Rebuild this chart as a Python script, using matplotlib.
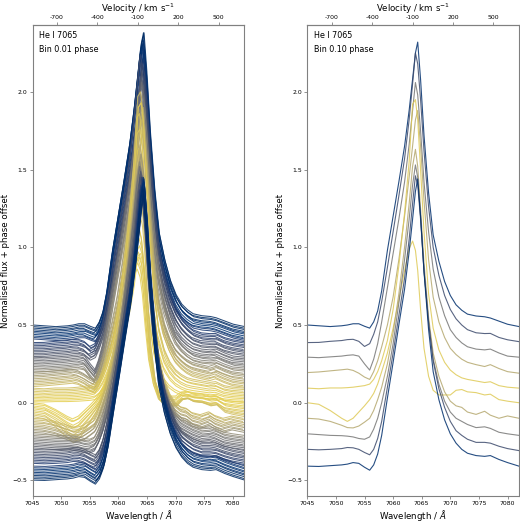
import numpy as np
import matplotlib
matplotlib.use("Agg")
import matplotlib.pyplot as plt

# wavelength grid (A) on which the 10 phase-binned profiles were read
wave = [7045, 7047, 7049, 7051, 7052, 7053, 7054, 7055, 7055.9, 7056.6, 7057.3, 7058,
        7059, 7060, 7061, 7062, 7062.8, 7063.4, 7063.9, 7064.3, 7064.8, 7065.4, 7066.2,
        7067, 7068, 7069, 7070, 7071, 7072, 7073, 7074.5, 7076, 7077, 7078.5, 7080, 7082]

# continuum-subtracted flux of each 0.10 phase bin
bin_flux = [
    [0.0, -0.005, -0.01, -0.005, 0.0, 0.008, 0.008, -0.008, -0.02, 0.02, 0.09, 0.22,
     0.48, 0.70, 0.92, 1.15, 1.38, 1.58, 1.75, 1.82, 1.58, 1.22, 0.85,
     0.58, 0.41, 0.28, 0.19, 0.13, 0.095, 0.07, 0.058, 0.053, 0.045, 0.025, 0.005, -0.01],
    [-0.013, -0.012, -0.005, 0.0, 0.006, 0.008, -0.005, -0.038, -0.02, 0.04, 0.12, 0.25,
     0.47, 0.70, 0.93, 1.17, 1.42, 1.65, 1.85, 1.78, 1.55, 1.22, 0.86,
     0.60, 0.42, 0.29, 0.20, 0.14, 0.10, 0.07, 0.05, 0.045, 0.046, 0.02, 0.005, -0.007],
    [-0.007, -0.01, -0.005, 0.0, 0.005, 0.008, 0.0, -0.05, -0.09, -0.02, 0.08, 0.22,
     0.44, 0.66, 0.88, 1.12, 1.36, 1.58, 1.76, 1.68, 1.45, 1.12, 0.80,
     0.56, 0.38, 0.26, 0.17, 0.12, 0.085, 0.06, 0.045, 0.04, 0.045, 0.02, 0.0, -0.007],
    [-0.006, -0.002, 0.005, 0.012, 0.016, 0.008, -0.01, -0.035, -0.05, 0.0, 0.07, 0.16,
     0.30, 0.48, 0.72, 1.00, 1.25, 1.45, 1.62, 1.68, 1.45, 1.10, 0.72,
     0.48, 0.32, 0.22, 0.15, 0.11, 0.08, 0.06, 0.045, 0.033, 0.045, 0.02, 0.0, -0.01],
    [-0.006, -0.01, -0.005, -0.005, -0.003, 0.0, 0.005, 0.01, 0.02, 0.05, 0.10, 0.17,
     0.30, 0.50, 0.78, 1.12, 1.45, 1.82, 1.85, 1.72, 1.40, 1.00, 0.60,
     0.38, 0.24, 0.16, 0.11, 0.08, 0.06, 0.05, 0.04, 0.03, 0.035, 0.01, 0.0, -0.006],
    [0.0, -0.01, -0.05, -0.10, -0.12, -0.10, -0.06, -0.02, 0.02, 0.06, 0.12, 0.20,
     0.32, 0.48, 0.66, 0.85, 0.99, 1.04, 0.98, 0.85, 0.60, 0.35, 0.17,
     0.08, 0.05, 0.05, 0.05, 0.08, 0.085, 0.07, 0.065, 0.05, 0.055, 0.02, 0.01, 0.0],
    [0.0, -0.005, -0.02, -0.045, -0.06, -0.062, -0.05, -0.025, 0.0, 0.05, 0.12, 0.20,
     0.35, 0.55, 0.80, 1.10, 1.38, 1.62, 1.73, 1.62, 1.35, 1.00, 0.65,
     0.42, 0.27, 0.17, 0.11, 0.08, 0.07, 0.04, 0.025, 0.045, 0.02, 0.0, 0.015, 0.0],
    [0.0, -0.005, -0.01, -0.012, -0.015, -0.02, -0.03, -0.035, -0.02, 0.03, 0.10, 0.20,
     0.37, 0.58, 0.84, 1.12, 1.38, 1.60, 1.73, 1.65, 1.40, 1.05, 0.72,
     0.48, 0.32, 0.21, 0.14, 0.10, 0.08, 0.06, 0.04, 0.045, 0.035, 0.01, 0.0, -0.01],
    [0.0, -0.003, 0.0, 0.005, 0.012, 0.01, 0.0, -0.02, -0.035, 0.0, 0.07, 0.18,
     0.40, 0.62, 0.86, 1.10, 1.35, 1.58, 1.76, 1.70, 1.48, 1.15, 0.82,
     0.57, 0.39, 0.27, 0.18, 0.12, 0.09, 0.065, 0.045, 0.045, 0.04, 0.02, 0.005, -0.008],
    [-0.008, -0.01, -0.005, 0.0, 0.005, 0.015, 0.01, -0.015, -0.034, 0.0, 0.07, 0.19,
     0.43, 0.66, 0.90, 1.13, 1.37, 1.58, 1.76, 1.84, 1.60, 1.24, 0.87,
     0.60, 0.42, 0.29, 0.20, 0.14, 0.10, 0.075, 0.06, 0.055, 0.06, 0.035, 0.015, -0.008],
]
bin_phase = [0.05, 0.15, 0.25, 0.35, 0.45, 0.55, 0.65, 0.75, 0.85, 0.95]
bin_offset = [0.5, 0.4, 0.3, 0.2, 0.1, 0.0, -0.1, -0.2, -0.3, -0.4]

# 0.01 phase bins: peak height above continuum and small peak shift (A)
fine_peak = [1.88, 1.86, 1.90, 1.84, 1.87, 1.82, 1.85, 1.83, 1.86, 1.80,
             1.84, 1.80, 1.86, 1.78, 1.82, 1.85, 1.76, 1.80, 1.74, 1.78,
             1.76, 1.72, 1.78, 1.70, 1.74, 1.68, 1.75, 1.70, 1.66, 1.72,
             1.70, 1.64, 1.72, 1.66, 1.60, 1.74, 1.68, 1.62, 1.70, 1.65,
             1.90, 1.84, 1.78, 1.86, 1.70, 1.60, 1.45, 1.30, 1.10, 0.95,
             0.90, 0.95, 0.88, 1.00, 1.05, 0.98, 1.12, 1.20, 1.30, 1.45,
             1.60, 1.70, 1.75, 1.68, 1.80, 1.72, 1.76, 1.70, 1.78, 1.74,
             1.72, 1.76, 1.70, 1.75, 1.68, 1.74, 1.78, 1.72, 1.70, 1.76,
             1.76, 1.80, 1.74, 1.78, 1.72, 1.80, 1.76, 1.82, 1.75, 1.78,
             1.82, 1.86, 1.80, 1.84, 1.88, 1.82, 1.85, 1.80, 1.86, 1.83]
fine_shift = [0.1, 0.0, 0.2, -0.1, 0.1, 0.3, 0.0, -0.2, 0.1, 0.2,
              0.0, 0.2, -0.1, 0.1, 0.3, -0.2, 0.0, 0.2, -0.1, 0.1,
              0.1, -0.1, 0.2, 0.0, -0.2, 0.1, 0.3, 0.0, -0.1, 0.2,
              -0.2, 0.0, 0.1, -0.3, 0.2, 0.0, -0.1, 0.1, -0.2, 0.0,
              0.0, 0.1, -0.2, 0.1, -0.1, 0.0, -0.1, 0.1, -0.2, 0.0,
              0.0, 0.2, -0.1, 0.1, 0.3, 0.0, 0.2, 0.1, 0.3, 0.2,
              -0.2, 0.0, -0.3, 0.1, -0.1, -0.2, 0.0, -0.3, 0.1, -0.1,
              0.0, -0.2, 0.1, -0.1, 0.2, 0.0, -0.2, 0.1, 0.0, -0.1,
              0.1, 0.0, 0.2, -0.1, 0.1, 0.3, 0.0, 0.2, -0.1, 0.1,
              0.2, 0.1, 0.3, 0.0, 0.2, 0.1, 0.3, 0.2, 0.0, 0.1]

vel_ticks = [-700, -400, -100, 200, 500]
lam0 = 7065.75
c_kms = 299792.458

wave = np.array(wave)
cmap = plt.get_cmap("cividis")
grey = "#808080"


def colour(phase):
    # dark at phase 0/1, yellow at phase 0.5
    return cmap(0.05 + 0.85 * (0.5 - 0.5 * np.cos(2 * np.pi * phase)))


def style(ax, binlabel):
    ax.set_xlim(7045, 7082)
    ax.set_ylim(-0.6, 2.43)
    ax.set_yticks([-0.5, 0.0, 0.5, 1.0, 1.5, 2.0])
    ax.set_xticks(range(7045, 7081, 5))
    for s in ax.spines.values():
        s.set_color(grey)
        s.set_linewidth(0.8)
    ax.tick_params(labelsize=4.4, length=2.2, width=0.6, color=grey, pad=1.5)
    ax.set_xlabel(r"Wavelength / $\AA$", fontsize=6.2, labelpad=1)
    ax.set_ylabel("Normalised flux + phase offset", fontsize=6.2, labelpad=1.5)
    ax.text(0.03, 0.977, "He I 7065", transform=ax.transAxes, fontsize=5.8, va="center")
    ax.text(0.03, 0.949, binlabel, transform=ax.transAxes, fontsize=5.8, va="center")
    top = ax.secondary_xaxis("top", functions=(lambda l: (l - lam0) / lam0 * c_kms,
                                               lambda v: lam0 * (1 + v / c_kms)))
    top.set_xticks(vel_ticks)
    top.set_xticklabels([str(v) for v in vel_ticks])
    top.tick_params(labelsize=4.4, length=2.2, width=0.6, color=grey, pad=1.2)
    top.spines["top"].set_color(grey)
    top.set_xlabel(r"Velocity / km s$^{-1}$", fontsize=6.2, labelpad=2.5)


fig = plt.figure(figsize=(5.2, 5.21), dpi=100)
ax1 = fig.add_axes([0.0625, 0.048, 0.407, 0.904])
ax2 = fig.add_axes([0.591, 0.048, 0.407, 0.904])

for k in range(100):
    b = k // 10
    prof = np.array(bin_flux[b])
    scale = fine_peak[k] / prof.max()
    off = 0.5 - 0.01 * k
    ax1.plot(wave + fine_shift[k], off + scale * prof, color=colour((k + 0.5) / 100),
             lw=0.75, alpha=0.85)

for b in range(10):
    ax2.plot(wave, bin_offset[b] + np.array(bin_flux[b]), color=colour(bin_phase[b]),
             lw=0.8, alpha=0.85)

style(ax1, "Bin 0.01 phase")
style(ax2, "Bin 0.10 phase")

fig.savefig("out.png", dpi=100)
